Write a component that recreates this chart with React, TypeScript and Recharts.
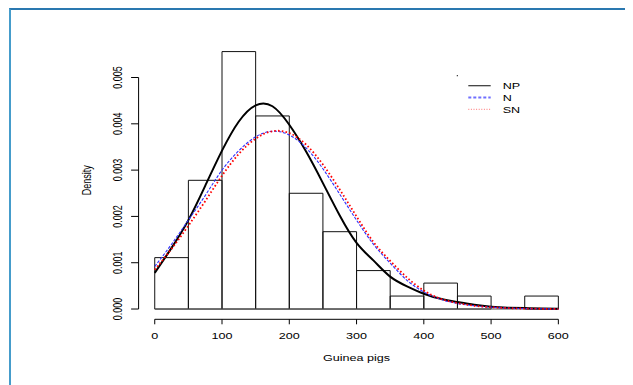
import React from 'react';
import { ComposedChart, XAxis, YAxis, Line, ReferenceArea, ReferenceLine, Customized } from 'recharts';

// ---- data ----
const binStarts = [0, 50, 100, 150, 200, 250, 300, 350, 400, 450, 500, 550];
const binWidth = 50;
const binDensity = [0.00111, 0.00278, 0.00556, 0.00417, 0.0025, 0.00167, 0.00083, 0.00028, 0.00056, 0.00028, 0, 0.00028];

const curveX = [0, 25, 50, 75, 100, 125, 150, 175, 200, 225, 250, 275, 300, 325, 350, 375, 400, 425, 450, 475, 500, 525, 550, 575, 600];
const npDensity = [0.00078, 0.00132, 0.00192, 0.00266, 0.00342, 0.00405, 0.0044, 0.00438, 0.00398, 0.0034, 0.00272, 0.00202, 0.00143, 0.00105, 0.0007, 0.00049, 0.00033, 0.00022, 0.00015, 0.00009, 0.00005, 0.00003, 0.00002, 0.00001, 0.000005];
const nDensity = [0.00092, 0.0014, 0.00192, 0.00245, 0.003, 0.00342, 0.00372, 0.00384, 0.00376, 0.00348, 0.00303, 0.00248, 0.00192, 0.0014, 0.00099, 0.00062, 0.00037, 0.00021, 0.00012, 0.00007, 0.00004, 0.00002, 0.00001, 0.000005, 0];
const snDensity = [0.00085, 0.0013, 0.0018, 0.00233, 0.00288, 0.00335, 0.00368, 0.00384, 0.0038, 0.00355, 0.00312, 0.00258, 0.002, 0.00145, 0.00104, 0.00068, 0.0004, 0.00022, 0.00013, 0.00007, 0.00004, 0.00002, 0.00001, 0.000005, 0];

const xTicks = [0, 100, 200, 300, 400, 500, 600];
const yTicks = [0, 0.001, 0.002, 0.003, 0.004, 0.005];
const yTickLabels = ['0.000', '0.001', '0.002', '0.003', '0.004', '0.005'];
const seriesNames = ['NP', 'N', 'SN'];
const xTitle = 'Guinea pigs';
const yTitle = 'Density';

const xDomain: [number, number] = [-24, 624];
const yDomain: [number, number] = [-0.000222, 0.00578];

const npData = curveX.map((x, i) => ({ x, y: npDensity[i] }));
const nData = curveX.map((x, i) => ({ x, y: nDensity[i] }));
const snData = curveX.map((x, i) => ({ x, y: snDensity[i] }));

// ---- layout ----
const W = 617;
const H = 369;
const MARGIN = { top: 33.4, right: 50.5, bottom: 27.7, left: 0 };
const Y_AXIS_W = 130.6;
const X_AXIS_H = 30;
const FONT = '"Liberation Sans", Arial, Helvetica, sans-serif';
const STRETCH = 1.4;

const seriesStyle = [
  { stroke: '#333333', width: 1.2, dash: undefined as string | undefined },
  { stroke: '#7070ff', width: 2, dash: '3 2' },
  { stroke: '#ff7070', width: 1, dash: '1 1.6' },
];

const XTick = (props: any) => {
  const { x, y, payload } = props;
  return (
    <g transform={`translate(${x},${y}) scale(${STRETCH},1)`}>
      <text x={0} y={0} dy="0.71em" textAnchor="middle" fontSize={9} fontFamily={FONT} fill="#000">
        {payload.value}
      </text>
    </g>
  );
};

const YTick = (props: any) => {
  const { x, y, payload, index } = props;
  const label = yTickLabels[index] ?? String(payload.value);
  return (
    <g transform={`translate(${x},${y}) scale(${STRETCH},1) rotate(-90)`}>
      <text x={0} y={0} textAnchor="middle" fontSize={9} fontFamily={FONT} fill="#000">
        {label}
      </text>
    </g>
  );
};

const Decorations = () => {
  const plotLeft = MARGIN.left + Y_AXIS_W;
  const plotRight = W - MARGIN.right;
  const plotTop = MARGIN.top;
  const plotBottom = H - MARGIN.bottom - X_AXIS_H;
  const cx = (plotLeft + plotRight) / 2;
  const cy = (plotTop + plotBottom) / 2;
  const legX = 460.3;
  const legY = 77.7;
  return (
    <g>
      <g transform={`translate(${cx},${plotBottom + 41.7}) scale(${STRETCH},1)`}>
        <text x={0} y={0} textAnchor="middle" fontSize={9} fontFamily={FONT} fill="#000">{xTitle}</text>
      </g>
      <g transform={`translate(82.5,${cy}) scale(${STRETCH},1) rotate(-90)`}>
        <text x={0} y={0} textAnchor="middle" fontSize={9} fontFamily={FONT} fill="#000">{yTitle}</text>
      </g>
      <circle cx={449.3} cy={67.7} r={0.6} fill="#000" />
      {seriesNames.map((name, i) => (
        <g key={name}>
          <line x1={legX} x2={legX + 22.4} y1={legY + i * 11.8} y2={legY + i * 11.8}
            stroke={seriesStyle[i].stroke} strokeWidth={seriesStyle[i].width} strokeDasharray={seriesStyle[i].dash} />
          <g transform={`translate(${legX + 34.4},${legY + i * 11.8 + 3.2}) scale(${STRETCH},1)`}>
            <text x={0} y={0} fontSize={9} fontFamily={FONT} fill="#000">{name}</text>
          </g>
        </g>
      ))}
    </g>
  );
};

export default function App() {
  return (
    <div style={{ position: 'relative', width: 625, height: 377 }}>
      <div style={{ position: 'absolute', left: 1, top: 0, width: 700, height: 400, borderTop: '2px solid #2a78b0', borderLeft: '2px solid #459ccb' }} />
      <div style={{ position: 'absolute', left: 0, top: 0 }}>
        <ComposedChart width={W} height={H} margin={MARGIN}>
          <XAxis dataKey="x" type="number" domain={xDomain} allowDataOverflow ticks={xTicks} interval={0}
            axisLine={false} tickLine={{ stroke: '#000' }} tickSize={5} tickMargin={8} height={X_AXIS_H} tick={<XTick />} />
          <YAxis type="number" domain={yDomain} allowDataOverflow ticks={yTicks} interval={0}
            axisLine={false} tickLine={{ stroke: '#000' }} tickSize={7.5} tickMargin={9.4} width={Y_AXIS_W} tick={<YTick />} />
          {binStarts.map((b, i) => (
            binDensity[i] > 0 ? (
              <ReferenceArea key={b} x1={b} x2={b + binWidth} y1={0} y2={binDensity[i]}
                fill="none" fillOpacity={0} stroke="#111" strokeWidth={1} ifOverflow="visible" />
            ) : null
          ))}
          <ReferenceLine segment={[{ x: binStarts[0], y: 0 }, { x: binStarts[binStarts.length - 1] + binWidth, y: 0 }]} stroke="#555" strokeWidth={1} ifOverflow="visible" />
          <ReferenceLine segment={[{ x: xDomain[0], y: yTicks[0] }, { x: xDomain[0], y: yTicks[yTicks.length - 1] }]} stroke="#000" strokeWidth={1} ifOverflow="visible" />
          <ReferenceLine segment={[{ x: xTicks[0], y: yDomain[0] }, { x: xTicks[xTicks.length - 1], y: yDomain[0] }]} stroke="#000" strokeWidth={1} ifOverflow="visible" />
          <Line data={npData} dataKey="y" type="natural" stroke="#000" strokeWidth={2} dot={false} isAnimationActive={false} />
          <Line data={nData} dataKey="y" type="natural" stroke="#3030ff" strokeWidth={1.1} strokeDasharray="3 1.5" dot={false} isAnimationActive={false} />
          <Line data={snData} dataKey="y" type="natural" stroke="#ff0000" strokeWidth={1.8} strokeDasharray="1.6 2.2" dot={false} isAnimationActive={false} />
          <Customized component={<Decorations />} />
        </ComposedChart>
      </div>
    </div>
  );
}
